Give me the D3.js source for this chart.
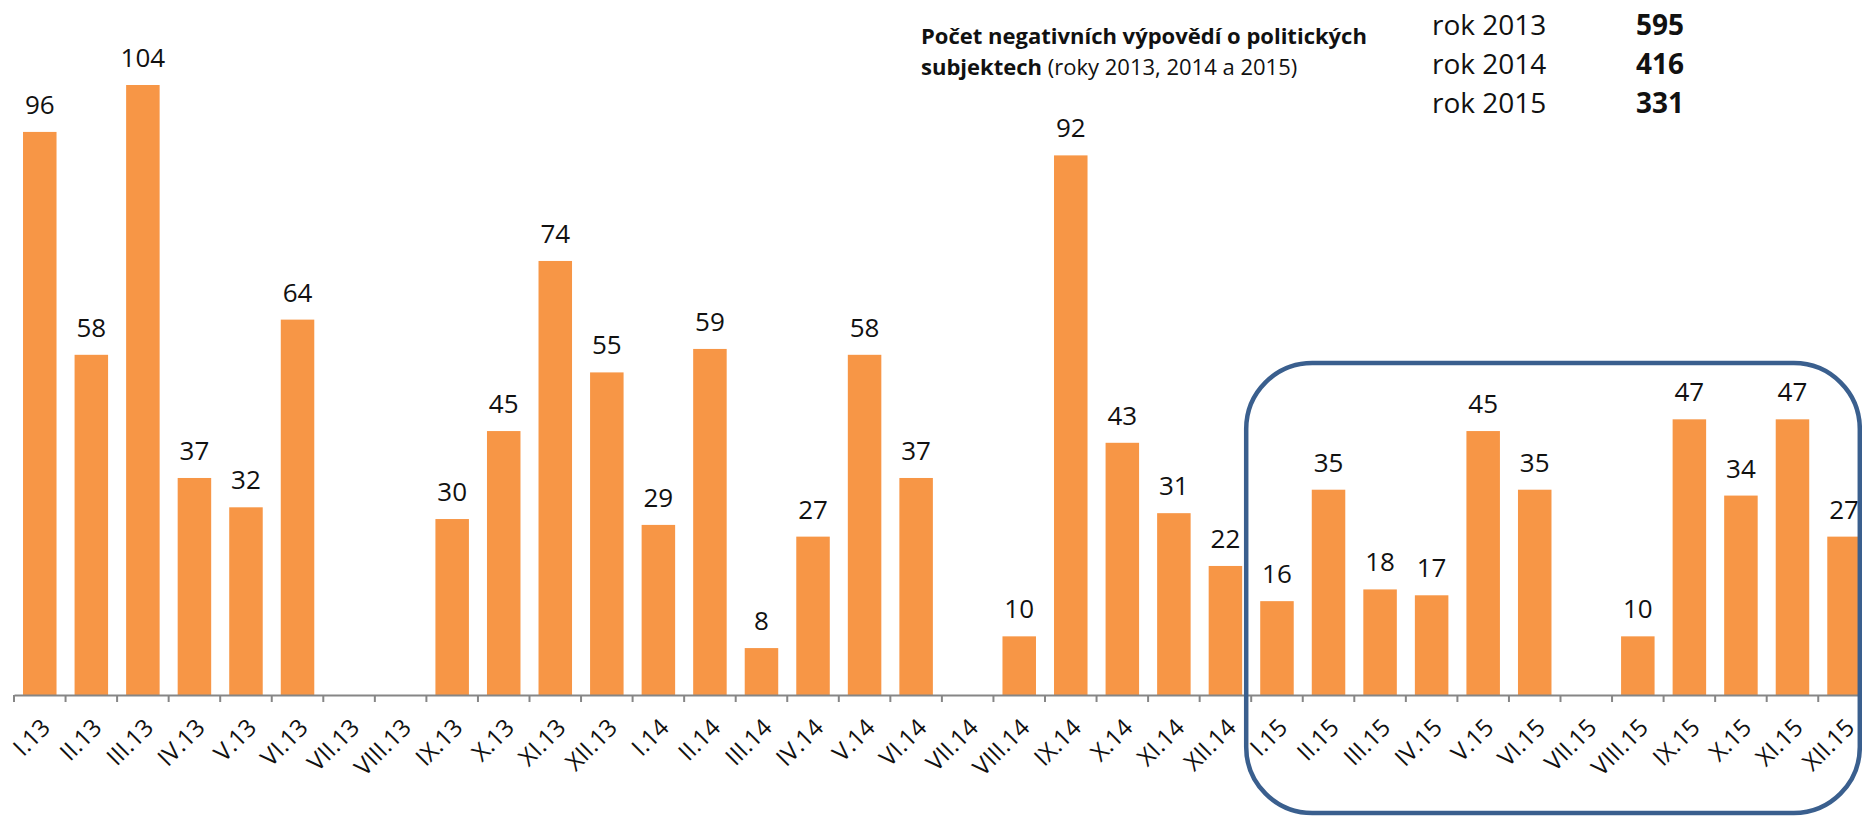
<!DOCTYPE html>
<html>
<head>
<meta charset="utf-8">
<script src="https://cdn.jsdelivr.net/npm/d3@7"></script>
<style>
  body { margin: 0; background: #fff; }
  svg { display: block; font-family: "Open Sans", sans-serif; }
</style>
</head>
<body>
<div id="chart"></div>
<script>
// data
const months = [
    "I.13", "II.13", "III.13", "IV.13", "V.13", "VI.13", "VII.13", "VIII.13", "IX.13", "X.13", "XI.13", "XII.13",
    "I.14", "II.14", "III.14", "IV.14", "V.14", "VI.14", "VII.14", "VIII.14", "IX.14", "X.14", "XI.14", "XII.14",
    "I.15", "II.15", "III.15", "IV.15", "V.15", "VI.15", "VII.15", "VIII.15", "IX.15", "X.15", "XI.15", "XII.15"
];
const counts = [
    96, 58, 104, 37, 32, 64, 0, 0, 30, 45, 74, 55,
    29, 59, 8, 27, 58, 37, 0, 10, 92, 43, 31, 22,
    16, 35, 18, 17, 45, 35, 0, 10, 47, 34, 47, 27
];
const years = ["rok 2013", "rok 2014", "rok 2015"];
const yearTotals = [595, 416, 331];
const highlighted = ["I.15", "XII.15"];

const dimensions = {
    width: 1862,
    height: 816,
    axisY: 695,
    plotTop: 85,
    left: 14,
    step: 51.55
};

const svg = d3.select("#chart").append("svg")
    .attr("width", dimensions.width)
    .attr("height", dimensions.height);

const xScale = d3.scaleBand()
    .domain(months)
    .range([dimensions.left, dimensions.left + dimensions.step * months.length])
    .paddingInner(0.35)
    .paddingOuter(0.175);

const yScale = d3.scaleLinear()
    .domain([0, d3.max(counts)])
    .range([dimensions.axisY, dimensions.plotTop]);

const data = months.map((m, i) => ({ month: m, value: counts[i] }));
const gap = (xScale.step() - xScale.bandwidth()) / 2;
const boundary = m => xScale(m) - gap;

// bars
svg.selectAll(".bar")
    .data(data.filter(d => d.value > 0))
    .enter().append("rect")
    .attr("class", "bar")
    .attr("x", d => xScale(d.month))
    .attr("y", d => yScale(d.value))
    .attr("width", xScale.bandwidth())
    .attr("height", d => yScale(0) - yScale(d.value))
    .style("fill", "#F79646");

// value labels
svg.selectAll(".label")
    .data(data.filter(d => d.value > 0))
    .enter().append("text")
    .attr("class", "label")
    .attr("x", d => xScale(d.month) + xScale.bandwidth() / 2)
    .attr("y", d => yScale(d.value) - 18)
    .attr("text-anchor", "middle")
    .style("font-size", "26px")
    .style("fill", "#111")
    .text(d => d.value);

// x axis
const xAxis = svg.append("g")
    .attr("transform", "translate(0," + dimensions.axisY + ")")
    .call(d3.axisBottom(xScale).tickSize(0).tickSizeOuter(0));

xAxis.select(".domain")
    .attr("stroke", "#868686")
    .attr("stroke-width", 2);

xAxis.selectAll(".tick text")
    .attr("x", 0).attr("y", 0).attr("dy", 0)
    .attr("text-anchor", "end")
    .attr("transform", "translate(12,34) rotate(-45)")
    .style("font-size", "24px")
    .style("font-family", "'Open Sans', sans-serif")
    .style("fill", "#111");

// tick marks between categories
const tickPositions = months.map(boundary).concat([boundary(months[months.length - 1]) + xScale.step()]);
svg.append("g")
    .selectAll("line")
    .data(tickPositions)
    .enter().append("line")
    .attr("x1", d => d).attr("x2", d => d)
    .attr("y1", dimensions.axisY)
    .attr("y2", dimensions.axisY + 7)
    .attr("stroke", "#868686")
    .attr("stroke-width", 2);

// highlight box around 2015
const boxLeft = boundary(highlighted[0]) - 5;
const boxRight = boundary(highlighted[1]) + xScale.step() - 10;
svg.append("rect")
    .attr("x", boxLeft)
    .attr("y", 363)
    .attr("width", boxRight - boxLeft)
    .attr("height", 450)
    .attr("rx", 66)
    .attr("ry", 66)
    .attr("fill", "none")
    .attr("stroke", "#3A5F8E")
    .attr("stroke-width", 4.5);

// title
const title = svg.append("g").style("fill", "#111");
title.append("text")
    .attr("x", 921)
    .attr("y", 44)
    .style("font-size", "22px")
    .style("font-weight", "bold")
    .text("Počet negativních výpovědí o politických");
const line2 = title.append("text")
    .attr("x", 921)
    .attr("y", 75)
    .style("font-size", "22px");
line2.append("tspan").style("font-weight", "bold").text("subjektech");
line2.append("tspan").text(" (roky 2013, 2014 a 2015)");

// yearly totals
const totals = svg.append("g").style("fill", "#111").style("font-size", "28px");
totals.selectAll(".year")
    .data(years)
    .enter().append("text")
    .attr("class", "year")
    .attr("x", 1432)
    .attr("y", (d, i) => 35 + i * 39)
    .text(d => d);
totals.selectAll(".total")
    .data(yearTotals)
    .enter().append("text")
    .attr("class", "total")
    .attr("x", 1636)
    .attr("y", (d, i) => 35 + i * 39)
    .style("font-weight", "bold")
    .text(d => d);
</script>
</body>
</html>
